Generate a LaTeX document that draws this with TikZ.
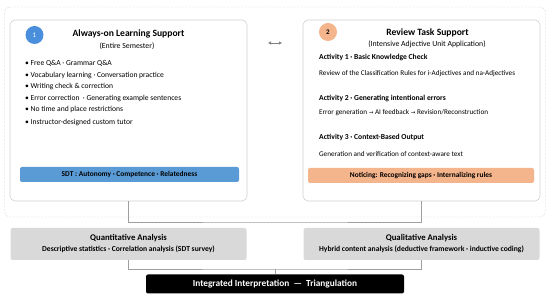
\documentclass[tikz,border=0pt]{standalone}
\usepackage{fontspec}
\usetikzlibrary{arrows.meta}
\setmainfont{Carlito}
\newfontfamily\symfont{DejaVu Sans}
\definecolor{panelline}{HTML}{CFCFCF}
\definecolor{sdtblue}{HTML}{5B9BD5}
\definecolor{circblue}{HTML}{4A8FDB}
\definecolor{peach}{HTML}{F4B48C}
\definecolor{anagrey}{HTML}{D9D9D9}
\tikzset{
  panel/.style={draw=panelline, line width=0.6pt, rounded corners=5pt, fill=white},
  bar/.style={rounded corners=2pt, font=\fontsize{7.4}{8}\selectfont\bfseries},
  badge/.style={circle, minimum size=18pt, inner sep=0pt, font=\fontsize{7}{8}\selectfont},
  item/.style={anchor=west, inner sep=0pt, font=\fontsize{7.6}{8}\selectfont},
  desc/.style={anchor=west, inner sep=0pt, font=\fontsize{7.2}{8}\selectfont},
  head/.style={anchor=west, inner sep=0pt, font=\fontsize{7.6}{8}\selectfont\bfseries},
  title/.style={font=\fontsize{9.6}{10}\selectfont\bfseries},
  subtitle/.style={font=\fontsize{7.8}{8}\selectfont},
  analysis/.style={fill=anagrey, rounded corners=2pt},
  link/.style={draw=gray!75, line width=0.5pt}
}
\begin{document}
\begin{tikzpicture}[x=1pt,y=-1pt]
  \useasboundingbox (0,0) rectangle (550,296);
  % outer frame
  \draw[panelline, dash pattern=on 2pt off 1.5pt, rounded corners=6pt] (4.5,7) rectangle (545.5,217);
  % two panels
  \node[panel, minimum width=237pt, minimum height=181pt] (learn) at (128.5,110.5) {};
  \node[panel, minimum width=237pt, minimum height=181pt] (review) at (421.5,110.5) {};
  \coordinate (arrowL) at (268,43);
  \coordinate (arrowR) at (282,43);
  \draw[gray, line width=0.6pt, {Latex[length=3pt,width=3.4pt]}-{Latex[length=3pt,width=3.4pt]}] (arrowL) -- (arrowR);
  % left panel
  \node[badge, fill=circblue, text=white] (one) at (34.5,35) {1};
  \node[title] (learntitle) at (128.5,34) {Always-on Learning Support};
  \node[subtitle] (learnsub) at (127,46.5) {(Entire Semester)};
  \node[item] at (25,63) {• Free Q\&A · Grammar Q\&A};
  \node[item] at (25,75.5) {• Vocabulary learning · Conversation practice};
  \node[item] at (25,87) {• Writing check \& correction};
  \node[item] at (25,98.5) {• Error correction \ · Generating example sentences};
  \node[item] at (25,109.5) {• No time and place restrictions};
  \node[item] at (25,122.5) {• Instructor-designed custom tutor};
  \node[bar, fill=sdtblue, minimum width=219pt, minimum height=15pt] (sdt) at (129.5,174.5) {SDT : Autonomy · Competence · Relatedness};
  % right panel
  \node[badge, fill=peach] (two) at (328,32) {\bfseries 2};
  \node[title] (reviewtitle) at (427.5,33) {Review Task Support};
  \node[subtitle] (reviewsub) at (427,44) {(Intensive Adjective Unit Application)};
  \node[head] at (319,57) {Activity 1 · Basic Knowledge Check};
  \node[desc] at (319,74) {Review of the Classification Rules for i-Adjectives and na-Adjectives};
  \node[head] at (319,98) {Activity 2 · Generating intentional errors};
  \node[desc] at (319,113) {Error generation {\symfont\fontsize{5.5}{6}\selectfont →} AI feedback {\symfont\fontsize{5.5}{6}\selectfont →} Revision/Reconstruction};
  \node[head] at (319,137) {Activity 3 · Context-Based Output};
  \node[desc] at (319,154) {Generation and verification of context-aware text};
  \node[bar, fill=peach, minimum width=226pt, minimum height=15pt] (notice) at (421,175.5) {Noticing: Recognizing gaps · Internalizing rules};
  % analysis boxes
  \node[analysis, minimum width=236pt, minimum height=32pt] (quant) at (128.5,244) {};
  \node[font=\fontsize{8.7}{9}\selectfont\bfseries] at (128.5,238) {Quantitative Analysis};
  \node[font=\fontsize{7.6}{8}\selectfont\bfseries] at (128.5,249.5) {Descriptive statistics · Correlation analysis (SDT survey)};
  \node[analysis, minimum width=236pt, minimum height=32pt] (qual) at (421.5,244) {};
  \node[font=\fontsize{8.7}{9}\selectfont\bfseries] at (421.5,238) {Qualitative Analysis};
  \node[font=\fontsize{7.6}{8}\selectfont\bfseries] at (421.5,249.5) {Hybrid content analysis (deductive framework · inductive coding)};
  \node[fill=black, text=white, rounded corners=2pt, minimum width=258pt, minimum height=19pt,
        font=\fontsize{9.3}{10}\selectfont\bfseries] (tri) at (275,284) {Integrated Interpretation \ — \ Triangulation};
  % connectors
  \coordinate (jointop) at (275,222);
  \coordinate (joinbot) at (275,269);
  \draw[link] (learn.south) |- (jointop) -| (review.south);
  \draw[link] (quant.south) |- (joinbot) -| (qual.south);
  \draw[link] (joinbot) -- (tri.north);
\end{tikzpicture}
\end{document}
